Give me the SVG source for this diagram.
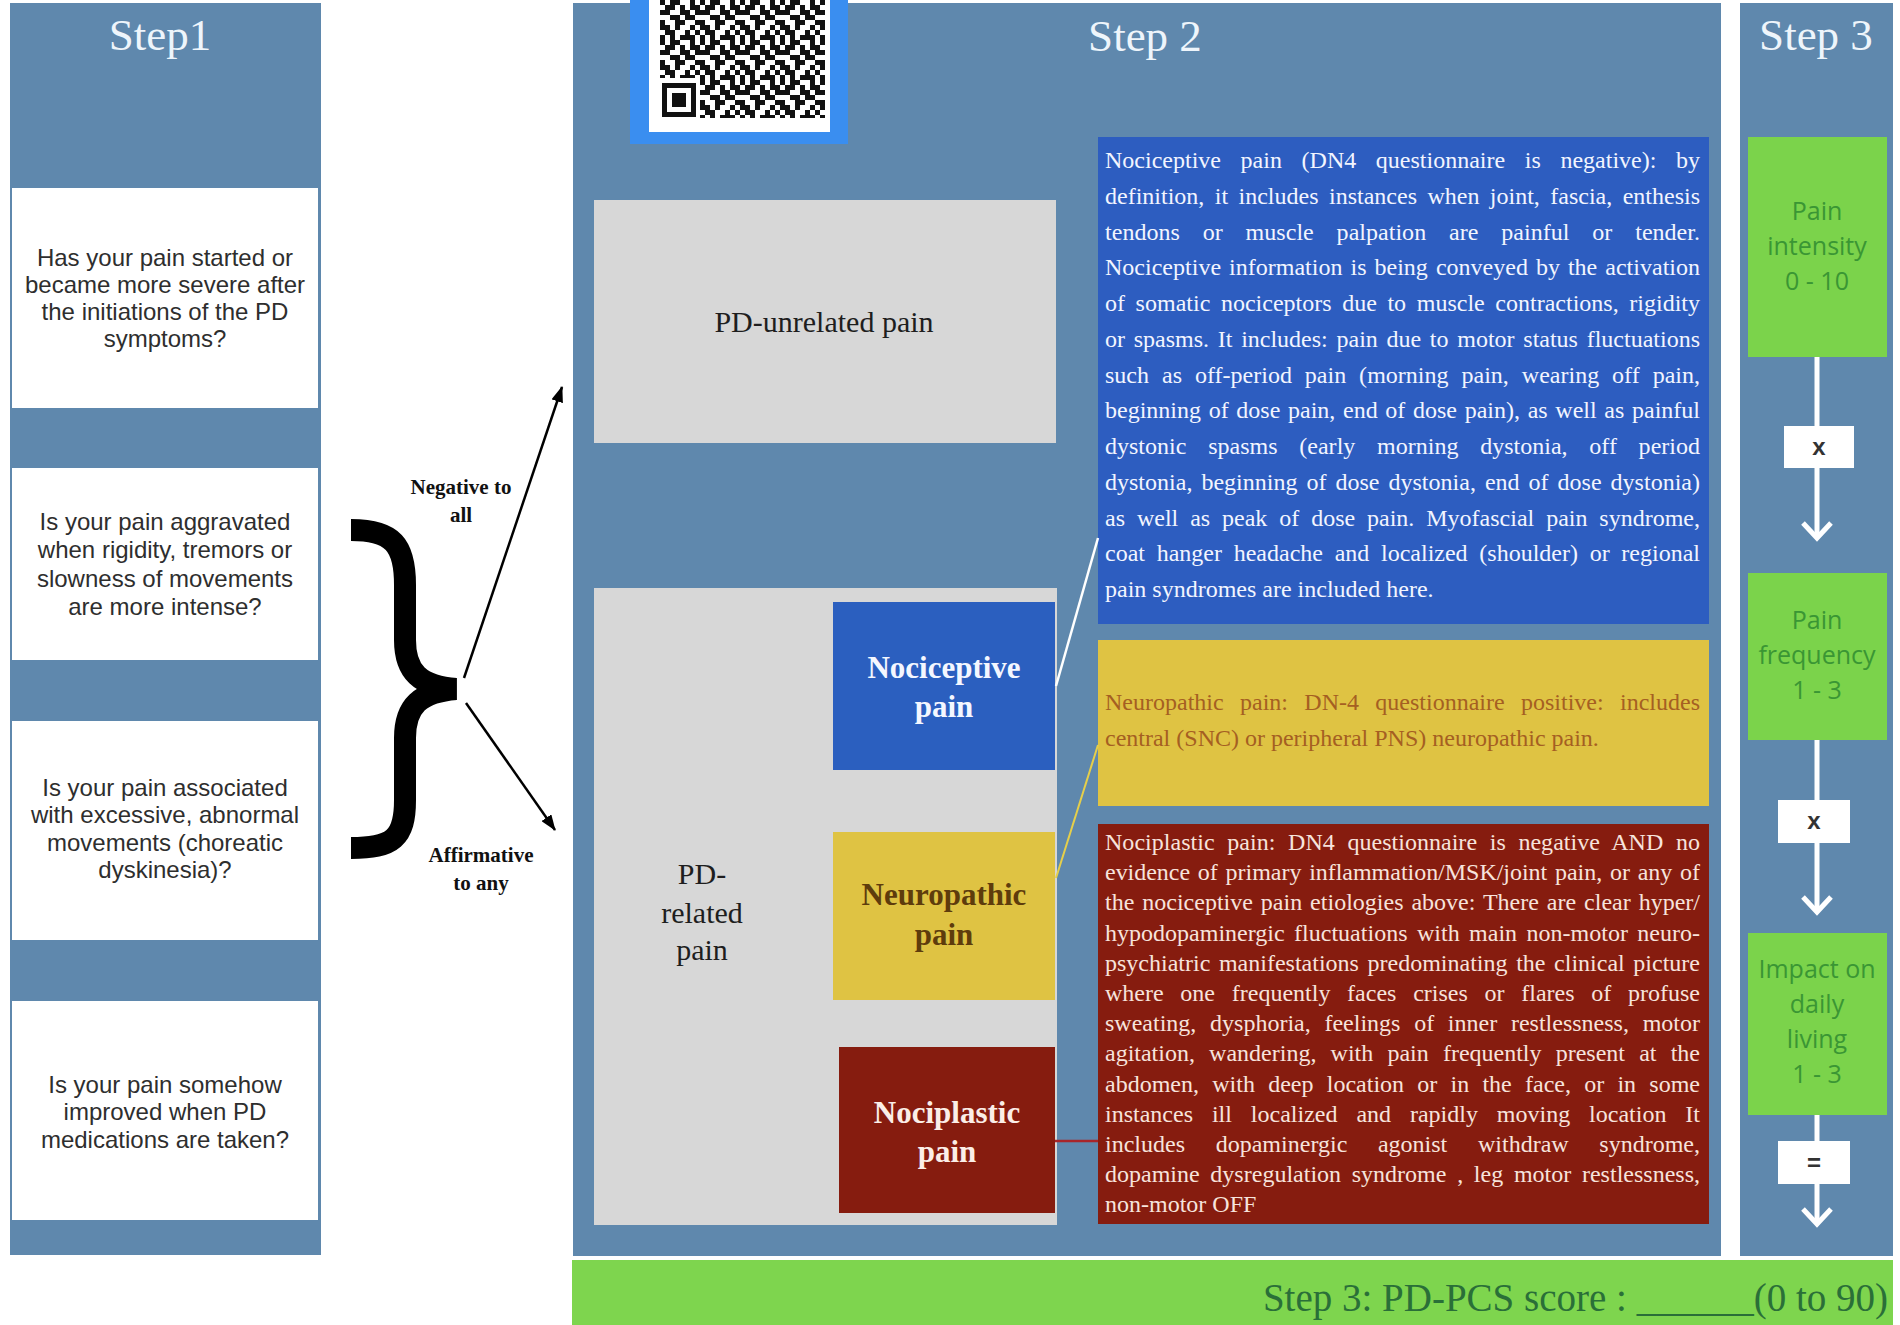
<svg xmlns="http://www.w3.org/2000/svg" width="1900" height="1325" viewBox="0 0 1900 1325">
<defs>
<style>
.panel{fill:#5f88ad}
.qbox{fill:#ffffff}
.q{font-family:"Liberation Sans",Arial,sans-serif;font-size:24px;fill:#2e2e2e;text-anchor:middle}
.title{font-family:"Liberation Serif","Times New Roman",serif;font-size:45px;fill:#eef5fb;text-anchor:middle}
.lbl{font-family:"Liberation Serif","Times New Roman",serif;font-size:21px;font-weight:bold;fill:#111111;text-anchor:middle}
.gray{fill:#d7d7d7}
.big{font-family:"Liberation Serif","Times New Roman",serif;font-size:30px;text-anchor:middle;fill:#1e1e1e}
.bold{font-family:"Liberation Serif","Times New Roman",serif;font-size:31px;font-weight:bold;text-anchor:middle}
.desc{font-family:"Liberation Serif","Times New Roman",serif;font-size:24px}
.green{fill:#7bd34b}
.g{font-family:"Open Sans","Liberation Sans",sans-serif;font-size:25px;fill:#3a9634;text-anchor:middle}
.opbox{fill:#ffffff}
.op{font-family:"Liberation Sans",Arial,sans-serif;font-size:24px;font-weight:bold;fill:#333333;text-anchor:middle}
.wl{stroke:#ffffff;stroke-width:5;fill:none}
</style>
<marker id="ah" viewBox="0 0 16 12" markerWidth="16" markerHeight="12" refX="15" refY="6" orient="auto" markerUnits="userSpaceOnUse">
<path d="M0,0 L16,6 L0,12 z" fill="#000000"/>
</marker>
<marker id="chev" viewBox="0 0 30 32" markerWidth="30" markerHeight="32" refX="26" refY="16" orient="auto" markerUnits="userSpaceOnUse">
<path d="M11,2 L26,16 L11,30" stroke="#ffffff" stroke-width="5" fill="none"/>
</marker>
<pattern id="qr" x="660" y="0" width="40" height="40" patternUnits="userSpaceOnUse">
<rect width="40" height="40" fill="#ffffff"/>
<g fill="#111111">
<rect x="0" y="0" width="5" height="5"/><rect x="10" y="0" width="10" height="5"/><rect x="30" y="0" width="5" height="5"/>
<rect x="5" y="5" width="10" height="5"/><rect x="20" y="5" width="5" height="5"/><rect x="30" y="5" width="10" height="5"/>
<rect x="0" y="10" width="10" height="5"/><rect x="20" y="10" width="10" height="5"/><rect x="35" y="10" width="5" height="5"/>
<rect x="10" y="15" width="10" height="5"/><rect x="25" y="15" width="10" height="5"/>
<rect x="0" y="20" width="5" height="5"/><rect x="15" y="20" width="10" height="5"/><rect x="35" y="20" width="5" height="5"/>
<rect x="0" y="25" width="10" height="5"/><rect x="15" y="25" width="5" height="5"/><rect x="30" y="25" width="5" height="5"/>
<rect x="5" y="30" width="10" height="5"/><rect x="25" y="30" width="5" height="5"/><rect x="35" y="30" width="5" height="5"/>
<rect x="0" y="35" width="5" height="5"/><rect x="10" y="35" width="5" height="5"/><rect x="20" y="35" width="15" height="5"/>
</g>
</pattern>
</defs>

<rect width="1900" height="1325" fill="#ffffff"/>

<!-- Step 1 -->
<g id="step1">
<rect class="panel" x="10" y="3" width="311" height="1252"/>
<text class="title" x="160" y="50">Step1</text>
</g>
<g id="q1">
<rect class="qbox" x="12" y="188" width="306" height="220"/>
<text class="q" x="165" y="266">Has your pain started or</text>
<text class="q" x="165" y="293">became more severe after</text>
<text class="q" x="165" y="320">the initiations of the PD</text>
<text class="q" x="165" y="347">symptoms?</text>
</g>
<g id="q2">
<rect class="qbox" x="12" y="468" width="306" height="192"/>
<text class="q" x="165" y="530">Is your pain aggravated</text>
<text class="q" x="165" y="558">when rigidity, tremors or</text>
<text class="q" x="165" y="587">slowness of movements</text>
<text class="q" x="165" y="615">are more intense?</text>
</g>
<g id="q3">
<rect class="qbox" x="12" y="721" width="306" height="219"/>
<text class="q" x="165" y="796">Is your pain associated</text>
<text class="q" x="165" y="823">with excessive, abnormal</text>
<text class="q" x="165" y="851">movements (choreatic</text>
<text class="q" x="165" y="878">dyskinesia)?</text>
</g>
<g id="q4">
<rect class="qbox" x="12" y="1001" width="306" height="219"/>
<text class="q" x="165" y="1093">Is your pain somehow</text>
<text class="q" x="165" y="1120">improved when PD</text>
<text class="q" x="165" y="1148">medications are taken?</text>
</g>

<g id="brace">
<path d="M351,530 C393,530 405,545 405,585 L405,640 C405,672 420,686 456,689 C420,692 405,706 405,738 L405,800 C405,838 393,848 351,848" fill="none" stroke="#000000" stroke-width="22" stroke-linejoin="miter" stroke-miterlimit="10"/>
</g>
<g id="label-negative">
<text class="lbl" x="461" y="494">Negative to</text>
<text class="lbl" x="461" y="522">all</text>
</g>
<g id="label-affirmative">
<text class="lbl" x="481" y="862">Affirmative</text>
<text class="lbl" x="481" y="890">to any</text>
</g>

<!-- Step 2 -->
<g id="step2">
<rect class="panel" x="573" y="3" width="1148" height="1253"/>
<text class="title" x="1145" y="51">Step 2</text>
</g>
<g id="qrcode">
<rect x="630" y="0" width="218" height="144" fill="#3a8ef0"/>
<rect x="649" y="0" width="181" height="132" fill="#ffffff"/>
<rect x="660" y="0" width="165" height="118" fill="url(#qr)"/>
<rect x="657" y="78" width="43" height="42" fill="#ffffff"/>
<rect x="662" y="83" width="34" height="34" fill="#111111"/>
<rect x="667" y="88" width="24" height="24" fill="#ffffff"/>
<rect x="672" y="93" width="14" height="14" fill="#111111"/>
</g>
<g id="pd-unrelated">
<rect class="gray" x="594" y="200" width="462" height="243"/>
<text class="big" x="824" y="332">PD-unrelated pain</text>
</g>
<g id="pd-related">
<rect class="gray" x="594" y="588" width="463" height="637"/>
<text class="big" x="702" y="884">PD-</text>
<text class="big" x="702" y="923">related</text>
<text class="big" x="702" y="960">pain</text>
</g>
<g id="nociceptive">
<rect x="833" y="602" width="222" height="168" fill="#2b5fbf"/>
<text class="bold" x="944" y="678" fill="#f4f7ff">Nociceptive</text>
<text class="bold" x="944" y="717" fill="#f4f7ff">pain</text>
</g>
<g id="neuropathic">
<rect x="833" y="832" width="222" height="168" fill="#dfc343"/>
<text class="bold" x="944" y="905" fill="#5e3c0c">Neuropathic</text>
<text class="bold" x="944" y="945" fill="#5e3c0c">pain</text>
</g>
<g id="nociplastic">
<rect x="839" y="1047" width="216" height="166" fill="#861c0f"/>
<text class="bold" x="947" y="1123" fill="#fbeee8">Nociplastic</text>
<text class="bold" x="947" y="1162" fill="#fbeee8">pain</text>
</g>

<g id="desc-nociceptive">
<rect x="1098" y="137" width="611" height="487" fill="#2d5dc0"/>
<g class="desc" fill="#f2f5ff">
<text x="1105" y="168" style="word-spacing:13.6px" textLength="595" lengthAdjust="spacing">Nociceptive pain (DN4 questionnaire is negative): by</text>
<text x="1105" y="204" style="word-spacing:4.4px" textLength="595" lengthAdjust="spacing">definition, it includes instances when joint, fascia, enthesis</text>
<text x="1105" y="240" style="word-spacing:16.8px" textLength="595" lengthAdjust="spacing">tendons or muscle palpation are painful or tender.</text>
<text x="1105" y="275" style="word-spacing:2px" textLength="595" lengthAdjust="spacing">Nociceptive information is being conveyed by the activation</text>
<text x="1105" y="311" style="word-spacing:4.6px" textLength="595" lengthAdjust="spacing">of somatic nociceptors due to muscle contractions, rigidity</text>
<text x="1105" y="347" style="word-spacing:2.7px" textLength="595" lengthAdjust="spacing">or spasms. It includes: pain due to motor status fluctuations</text>
<text x="1105" y="383" style="word-spacing:6.9px" textLength="595" lengthAdjust="spacing">such as off-period pain (morning pain, wearing off pain,</text>
<text x="1105" y="418" style="word-spacing:1.7px" textLength="595" lengthAdjust="spacing">beginning of dose pain, end of dose pain), as well as painful</text>
<text x="1105" y="454" style="word-spacing:15.7px" textLength="595" lengthAdjust="spacing">dystonic spasms (early morning dystonia, off period</text>
<text x="1105" y="490" style="word-spacing:3px" textLength="595" lengthAdjust="spacing">dystonia, beginning of dose dystonia, end of dose dystonia)</text>
<text x="1105" y="526" style="word-spacing:5.9px" textLength="595" lengthAdjust="spacing">as well as peak of dose pain. Myofascial pain syndrome,</text>
<text x="1105" y="561" style="word-spacing:5.7px" textLength="595" lengthAdjust="spacing">coat hanger headache and localized (shoulder) or regional</text>
<text x="1105" y="597">pain syndromes are included here.</text>
</g>
</g>
<g id="desc-neuropathic">
<rect x="1098" y="640" width="611" height="166" fill="#dfc343"/>
<g class="desc" fill="#a55f22">
<text x="1105" y="710" style="word-spacing:10.3px" textLength="595" lengthAdjust="spacing">Neuropathic pain: DN-4 questionnaire positive: includes</text>
<text x="1105" y="746">central (SNC) or peripheral PNS) neuropathic pain.</text>
</g>
</g>
<g id="desc-nociplastic">
<rect x="1098" y="824" width="611" height="400" fill="#861c0f"/>
<g class="desc" fill="#f7e3dc">
<text x="1105" y="850" style="word-spacing:6.6px" textLength="595" lengthAdjust="spacing">Nociplastic pain: DN4 questionnaire is negative AND no</text>
<text x="1105" y="880" style="word-spacing:1.8px" textLength="595" lengthAdjust="spacing">evidence of primary inflammation/MSK/joint pain, or any of</text>
<text x="1105" y="910" style="word-spacing:1.9px" textLength="595" lengthAdjust="spacing">the nociceptive pain etiologies above: There are clear hyper/</text>
<text x="1105" y="941" style="word-spacing:3.4px" textLength="595" lengthAdjust="spacing">hypodopaminergic fluctuations with main non-motor neuro-</text>
<text x="1105" y="971" style="word-spacing:2.6px" textLength="595" lengthAdjust="spacing">psychiatric manifestations predominating the clinical picture</text>
<text x="1105" y="1001" style="word-spacing:10.7px" textLength="595" lengthAdjust="spacing">where one frequently faces crises or flares of profuse</text>
<text x="1105" y="1031" style="word-spacing:7.7px" textLength="595" lengthAdjust="spacing">sweating, dysphoria, feelings of inner restlessness, motor</text>
<text x="1105" y="1061" style="word-spacing:8.2px" textLength="595" lengthAdjust="spacing">agitation, wandering, with pain frequently present at the</text>
<text x="1105" y="1092" style="word-spacing:7.2px" textLength="595" lengthAdjust="spacing">abdomen, with deep location or in the face, or in some</text>
<text x="1105" y="1122" style="word-spacing:12.9px" textLength="595" lengthAdjust="spacing">instances ill localized and rapidly moving location It</text>
<text x="1105" y="1152" style="word-spacing:24.6px" textLength="595" lengthAdjust="spacing">includes dopaminergic agonist withdraw syndrome,</text>
<text x="1105" y="1182" style="word-spacing:4.7px" textLength="595" lengthAdjust="spacing">dopamine dysregulation syndrome , leg motor restlessness,</text>
<text x="1105" y="1212">non-motor OFF</text>
</g>
</g>

<!-- Step 3 -->
<g id="step3">
<rect class="panel" x="1740" y="3" width="153" height="1253"/>
<text class="title" x="1816" y="50">Step 3</text>
</g>
<g id="intensity">
<rect class="green" x="1748" y="137" width="139" height="220"/>
<text class="g" x="1817" y="220">Pain</text>
<text class="g" x="1817" y="255">intensity</text>
<text class="g" x="1817" y="290">0 - 10</text>
</g>
<g id="frequency">
<rect class="green" x="1748" y="573" width="139" height="167"/>
<text class="g" x="1817" y="629">Pain</text>
<text class="g" x="1817" y="664">frequency</text>
<text class="g" x="1817" y="699">1 - 3</text>
</g>
<g id="impact">
<rect class="green" x="1748" y="933" width="139" height="182"/>
<text class="g" x="1817" y="978">Impact on</text>
<text class="g" x="1817" y="1013">daily</text>
<text class="g" x="1817" y="1048">living</text>
<text class="g" x="1817" y="1083">1 - 3</text>
</g>

<g id="connectors">
<line x1="464" y1="678" x2="562" y2="387" stroke="#000000" stroke-width="2.5" marker-end="url(#ah)"/>
<line x1="466" y1="703" x2="555" y2="830" stroke="#000000" stroke-width="2.5" marker-end="url(#ah)"/>
<line x1="1056" y1="686" x2="1098" y2="538" stroke="#ffffff" stroke-width="2.5"/>
<line x1="1056" y1="878" x2="1098" y2="745" stroke="#e6cf4a" stroke-width="2"/>
<line x1="1055" y1="1141" x2="1098" y2="1141" stroke="#a8252a" stroke-width="2.5"/>
<line class="wl" x1="1817" y1="357" x2="1817" y2="538" marker-end="url(#chev)"/>
<line class="wl" x1="1817" y1="740" x2="1817" y2="912" marker-end="url(#chev)"/>
<line class="wl" x1="1817" y1="1115" x2="1817" y2="1224" marker-end="url(#chev)"/>
</g>

<g id="op1">
<rect class="opbox" x="1784" y="426" width="70" height="42"/>
<text class="op" x="1819" y="455">x</text>
</g>
<g id="op2">
<rect class="opbox" x="1778" y="800" width="72" height="43"/>
<text class="op" x="1814" y="829">x</text>
</g>
<g id="op3">
<rect class="opbox" x="1778" y="1141" width="72" height="43"/>
<text class="op" x="1814" y="1171">=</text>
</g>

<g id="score">
<rect x="572" y="1260" width="1321" height="65" fill="#7ed54e"/>
<text x="1888" y="1311" text-anchor="end" font-family="'Liberation Serif','Times New Roman',serif" font-size="39" fill="#2a6f38">Step 3: PD-PCS score : ______(0 to 90)</text>
</g>
</svg>
